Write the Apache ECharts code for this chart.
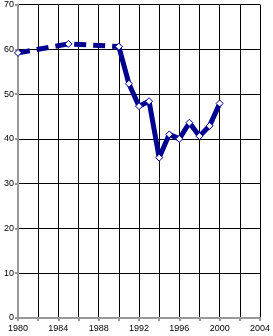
<!DOCTYPE html>
<html lang="en">
<head>
	<meta charset="UTF-8">
	<title>line</title>
	<script src="https://cdn.jsdelivr.net/npm/echarts@6/dist/echarts.min.js"></script>
	<style>
		html, body { margin: 0; padding: 0; background: #fff; }
	</style>
</head>
<body>
	<div id="main" style="width: 273px;height: 336px;"></div>
	<script>
		// early period (dashed)
		var yearsEarly = [1980, 1985, 1990];
		var valuesEarly = [59.2, 61.2, 60.6];
		// later period (solid)
		var yearsLate = [1990, 1991, 1992, 1993, 1994, 1995, 1996, 1997, 1998, 1999, 2000];
		var valuesLate = [60.6, 52.3, 47.3, 48.4, 35.8, 41.0, 40.0, 43.6, 40.6, 42.9, 47.9];

		var lineColor = '#000090';
		var font = "'Liberation Sans Narrow', 'Arial Narrow', 'Liberation Sans', sans-serif";

		function pairs(xs, ys) {
			return xs.map(function (x, i) { return [x, ys[i]]; });
		}

		var myChart = echarts.init(document.getElementById('main'));
		var option = {
			animation: false,
			grid: { left: 18, top: 4, right: 10, bottom: 18, containLabel: false },
			xAxis: {
				type: 'value',
				min: 1980, max: 2004, interval: 2,
				axisLine: { lineStyle: { color: '#999', width: 2 } },
				axisTick: { show: true, length: 3, lineStyle: { color: '#999', width: 2 } },
				axisLabel: {
					color: '#000', fontSize: 9, fontFamily: font, margin: 6, showMaxLabel: true,
					formatter: function (v) { return v % 4 === 0 ? String(v) : ''; }
				},
				splitLine: { show: true, lineStyle: { color: '#000', width: 1 } }
			},
			yAxis: {
				type: 'value',
				min: 0, max: 70, interval: 10,
				axisLine: { show: true, lineStyle: { color: '#999', width: 2 } },
				axisTick: { show: true, length: 3, lineStyle: { color: '#999', width: 2 } },
				axisLabel: { color: '#000', fontSize: 9, fontFamily: font, margin: 4, showMaxLabel: true },
				splitLine: { show: true, lineStyle: { color: '#000', width: 1 } }
			},
			series: [
				{
					type: 'line',
					data: pairs(yearsEarly, valuesEarly),
					lineStyle: { color: lineColor, width: 5, type: [12, 7], cap: 'butt' },
					symbol: 'diamond', symbolSize: 7,
					itemStyle: { color: '#fff', borderColor: lineColor, borderWidth: 1 },
					z: 3
				},
				{
					type: 'line',
					data: pairs(yearsLate, valuesLate),
					lineStyle: { color: lineColor, width: 5 },
					symbol: 'diamond', symbolSize: 7,
					itemStyle: { color: '#fff', borderColor: lineColor, borderWidth: 1 },
					z: 4
				}
			]
		};
		myChart.setOption(option);
	</script>
</body>
</html>
